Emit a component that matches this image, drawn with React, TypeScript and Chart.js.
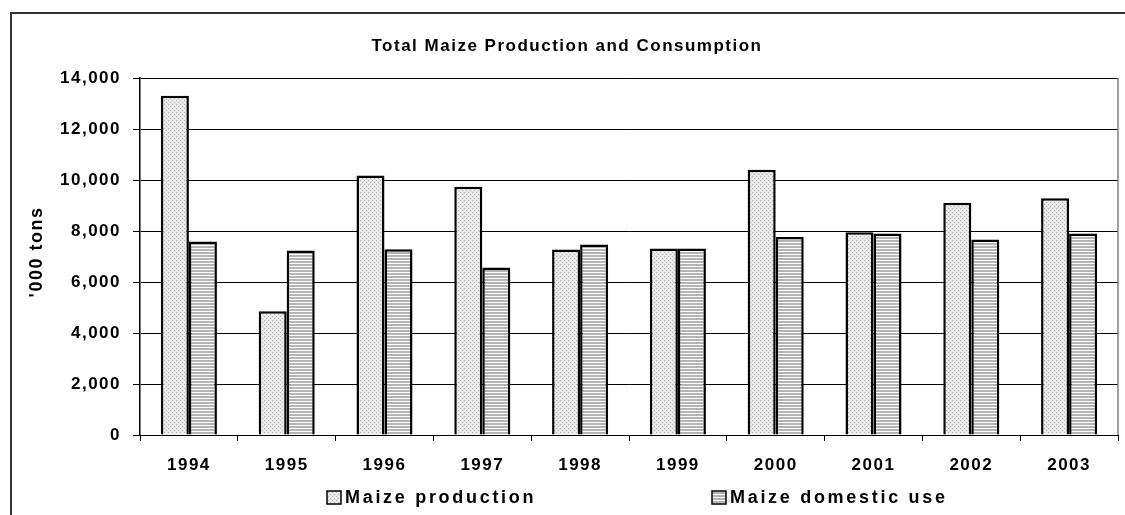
import React, { useEffect, useRef } from 'react';
import { Chart, registerables } from 'chart.js';

Chart.register(...registerables);

const years = ['1994', '1995', '1996', '1997', '1998', '1999', '2000', '2001', '2002', '2003'];
const production = [13300, 4850, 10180, 9740, 7270, 7310, 10400, 7950, 9110, 9280];
const domesticUse = [7590, 7240, 7280, 6570, 7470, 7310, 7760, 7900, 7670, 7900];
const yTickValues = [0, 2000, 4000, 6000, 8000, 10000, 12000, 14000];
const chartTitle = 'Total Maize Production and Consumption';
const yAxisTitle = "'000 tons";
const legendLabels = ['Maize production', 'Maize domestic use'];

const FONT = '"Liberation Sans", Arial, sans-serif';

function makeDotPattern(ctx: CanvasRenderingContext2D) {
  const c = document.createElement('canvas');
  c.width = 4;
  c.height = 4;
  const g = c.getContext('2d')!;
  g.fillStyle = '#e6e6e6';
  g.fillRect(0, 0, 4, 4);
  g.fillStyle = '#b8b8b8';
  g.fillRect(0, 0, 1, 1);
  g.fillRect(2, 2, 1, 1);
  g.fillStyle = '#f6f6f6';
  g.fillRect(2, 0, 1, 1);
  g.fillRect(0, 2, 1, 1);
  return ctx.createPattern(c, 'repeat')!;
}

function makeStripePattern(ctx: CanvasRenderingContext2D) {
  const c = document.createElement('canvas');
  c.width = 4;
  c.height = 3;
  const g = c.getContext('2d')!;
  g.fillStyle = '#b4b4b4';
  g.fillRect(0, 0, 4, 2);
  g.fillStyle = '#ffffff';
  g.fillRect(0, 2, 4, 1);
  return ctx.createPattern(c, 'repeat')!;
}

export default function App() {
  const canvasRef = useRef<HTMLCanvasElement | null>(null);

  useEffect(() => {
    const canvas = canvasRef.current!;
    const ctx = canvas.getContext('2d')!;
    const dotPattern = makeDotPattern(ctx);
    const stripePattern = makeStripePattern(ctx);

    const decor = {
      id: 'decor',
      beforeDraw(chart: any) {
        chart.ctx.letterSpacing = '1.5px';
      },
      afterDraw(chart: any) {
        const c: CanvasRenderingContext2D = chart.ctx;
        const a = chart.chartArea;
        c.save();
        // outer frame
        c.strokeStyle = '#333333';
        c.lineWidth = 2;
        c.beginPath();
        c.moveTo(11, 515);
        c.lineTo(11, 13);
        c.lineTo(1125, 13);
        c.stroke();
        // plot area right border
        c.strokeStyle = '#808080';
        c.lineWidth = 1.5;
        c.beginPath();
        c.moveTo(a.right, a.top);
        c.lineTo(a.right, a.bottom);
        c.stroke();
        // title
        c.fillStyle = '#000000';
        c.font = 'bold 17px ' + FONT;
        c.letterSpacing = '1.5px';
        c.textAlign = 'center';
        c.textBaseline = 'middle';
        c.fillText(chartTitle, 567, 46);
        // y axis title
        c.save();
        c.translate(37, 252);
        c.rotate(-Math.PI / 2);
        c.font = 'bold 18px ' + FONT;
        c.letterSpacing = '1.5px';
        c.fillText(yAxisTitle, 0, 0);
        c.restore();
        // legend
        const items = [
          { x: 327, fill: dotPattern, label: legendLabels[0] },
          { x: 712, fill: stripePattern, label: legendLabels[1] },
        ];
        c.font = 'bold 18px ' + FONT;
        c.letterSpacing = '2.7px';
        c.textAlign = 'left';
        items.forEach((it) => {
          c.fillStyle = it.fill;
          c.fillRect(it.x, 491, 14, 13);
          c.strokeStyle = '#000000';
          c.lineWidth = 1.5;
          c.strokeRect(it.x, 491, 14, 13);
          c.fillStyle = '#000000';
          c.fillText(it.label, it.x + 18, 498);
        });
        c.restore();
      },
    };

    const chart = new Chart(canvas, {
      type: 'bar',
      data: {
        labels: years,
        datasets: [
          {
            label: legendLabels[0],
            data: production,
            backgroundColor: dotPattern,
            borderColor: '#000000',
            borderWidth: 2.5,
            barPercentage: 1,
            categoryPercentage: 0.573,
          },
          {
            label: legendLabels[1],
            data: domesticUse,
            backgroundColor: stripePattern,
            borderColor: '#000000',
            borderWidth: 2.5,
            barPercentage: 1,
            categoryPercentage: 0.573,
          },
        ],
      },
      options: {
        responsive: false,
        animation: false,
        devicePixelRatio: 1,
        layout: { padding: { top: 78, right: 7, bottom: 35, left: 0 } },
        plugins: {
          legend: { display: false },
          title: { display: false },
          tooltip: { enabled: false },
        },
        scales: {
          x: {
            afterFit(scale: any) {
              scale.height = 45;
            },
            grid: {
              offset: true,
              drawOnChartArea: false,
              drawTicks: true,
              tickLength: 6,
              color: '#000000',
            },
            border: { display: true, color: '#000000', width: 1 },
            ticks: {
              color: '#000000',
              font: { family: FONT, size: 17, weight: 'bold' },
              padding: 14,
              maxRotation: 0,
            },
          },
          y: {
            min: 0,
            max: 14000,
            afterFit(scale: any) {
              scale.width = 140;
            },
            afterBuildTicks(scale: any) {
              scale.ticks = yTickValues.map((v) => ({ value: v }));
            },
            grid: {
              color: '#000000',
              lineWidth: 1,
              drawTicks: true,
              tickLength: 7,
            },
            border: { display: true, color: '#000000', width: 1.5 },
            ticks: {
              color: '#000000',
              font: { family: FONT, size: 17, weight: 'bold' },
              padding: 12,
              callback: (v: any) => Number(v).toLocaleString('en-US'),
            },
          },
        },
      },
      plugins: [decor],
    });

    return () => chart.destroy();
  }, []);

  return (
    <div style={{ position: 'fixed', left: 0, top: 0, width: 1125, height: 515, background: '#ffffff' }}>
      <canvas ref={canvasRef} width={1125} height={515} style={{ display: 'block', width: 1125, height: 515 }} />
    </div>
  );
}
